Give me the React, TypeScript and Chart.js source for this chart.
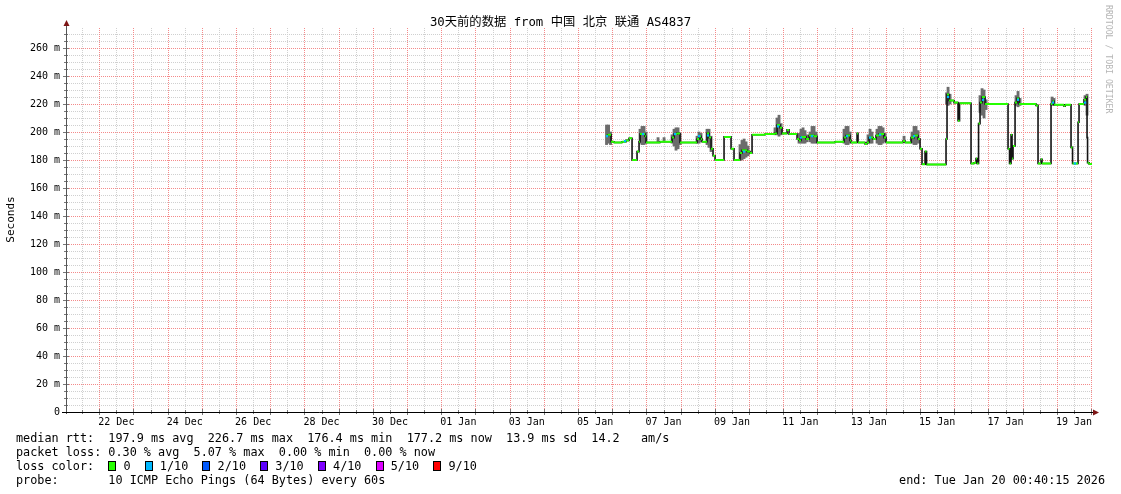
import React, { useEffect, useRef } from 'react';
import { Chart, registerables } from 'chart.js';

Chart.register(...registerables);

// ---- data ----
const TITLE = '30天前的数据 from 中国 北京 联通 AS4837';
// x values: days since 21 Dec 00:00 (window 21 Dec 00:40:15 .. 20 Jan 00:40:15)
const X_MIN = 0.028;
const X_MAX = 30.028;
const Y_MAX = 275;

const xTickLabels = ['22 Dec', '24 Dec', '26 Dec', '28 Dec', '30 Dec', '01 Jan', '03 Jan', '05 Jan', '07 Jan', '09 Jan', '11 Jan', '13 Jan', '15 Jan', '17 Jan', '19 Jan'];
const xLabelDays = [1.5, 3.5, 5.5, 7.5, 9.5, 11.5, 13.5, 15.5, 17.5, 19.5, 21.5, 23.5, 25.5, 27.5, 29.5];
const yLabelValues = [0, 20, 40, 60, 80, 100, 120, 140, 160, 180, 200, 220, 240, 260];
const yTickLabels = ['0', '20 m', '40 m', '60 m', '80 m', '100 m', '120 m', '140 m', '160 m', '180 m', '200 m', '220 m', '240 m', '260 m'];

// median rtt (ms); each value holds until the next time
const medianT = [15.819, 15.877, 15.965, 16.053, 16.287, 16.404, 16.491, 16.579, 16.725, 16.784, 16.813, 16.959, 16.988, 17.398, 17.749, 17.807, 17.895, 17.982, 18.480, 18.538, 18.596, 18.626, 18.772, 18.830, 18.889, 18.947, 19.006, 19.269, 19.474, 19.561, 19.737, 19.795, 19.942, 20.029, 20.088, 20.146, 20.468, 20.760, 20.819, 20.906, 20.965, 21.111, 21.170, 21.404, 21.462, 21.520, 21.667, 21.754, 21.901, 21.988, 22.515, 22.778, 22.836, 22.953, 22.982, 23.158, 23.187, 23.392, 23.450, 23.509, 23.626, 23.713, 23.801, 23.947, 24.006, 24.503, 24.561, 24.737, 24.825, 24.942, 25.000, 25.058, 25.146, 25.190, 25.760, 25.789, 25.848, 25.994, 26.111, 26.155, 26.491, 26.579, 26.637, 26.667, 26.711, 26.754, 26.813, 26.901, 27.573, 27.617, 27.661, 27.690, 27.719, 27.778, 27.836, 27.895, 28.392, 28.450, 28.538, 28.567, 28.830, 28.874, 28.918, 29.211, 29.240, 29.415, 29.459, 29.620, 29.649, 29.795, 29.854, 29.883, 29.898, 29.942, 30.028];
const medianV = [197.5, 198, 193, 192.5, 193, 194, 195.5, 180, 186, 193, 198.5, 197, 192.5, 193, 196, 198.5, 199, 192.5, 195, 197, 195, 193, 199, 196, 188, 183, 180, 196.5, 188, 180, 185, 187, 186, 185, 198, 198, 198.5, 199, 205, 203, 199, 201.5, 198.5, 195, 194, 196.5, 195, 197.5, 197, 192.5, 193, 196, 197.5, 194, 192.5, 199, 192.5, 191.5, 192.5, 196, 195, 197.5, 198.5, 196, 192.5, 193.5, 192.5, 196, 197.5, 195, 188, 177, 186, 176.8, 195, 226.7, 222.5, 221, 208, 220.5, 177.5, 178, 181, 177.5, 206, 221, 225, 220, 188, 177.5, 198, 181, 190, 221, 224, 220, 219, 177.5, 180.5, 177.5, 220, 222, 219.5, 218.5, 219.5, 189, 177.5, 207, 220, 223, 225, 196, 178, 177.2, 177.2];

// smoke (spread of the 10 pings), per column
const smokeT = [15.833, 15.892, 15.950, 16.813, 16.871, 16.930, 16.988, 17.339, 17.515, 17.749, 17.807, 17.865, 17.924, 17.982, 18.480, 18.538, 18.596, 18.772, 18.830, 18.889, 19.737, 19.795, 19.854, 19.912, 19.971, 20.760, 20.819, 20.877, 20.936, 21.462, 21.520, 21.579, 21.637, 21.696, 21.784, 21.842, 21.901, 21.959, 22.778, 22.836, 22.895, 22.953, 23.480, 23.538, 23.596, 23.743, 23.801, 23.860, 23.918, 23.977, 24.532, 24.766, 24.825, 24.883, 24.942, 25.775, 25.819, 25.877, 26.754, 26.813, 26.871, 26.930, 27.807, 27.865, 27.924, 28.860, 28.918, 29.825, 29.883];
const smokeLo = [191, 192, 191, 192, 191, 191, 192, 193, 193, 192, 190, 187, 188, 191, 192, 192, 193, 191, 189, 186, 181, 180, 181, 182, 183, 198, 198, 197, 198, 192, 192, 192, 192, 193, 193, 192, 192, 192, 192, 191, 191, 192, 192, 192, 192, 192, 191, 191, 192, 193, 193, 192, 191, 191, 192, 220, 219, 220, 214, 212, 210, 216, 219, 218, 219, 219, 219, 219, 212];
const smokeHi = [205, 205, 200, 202, 204, 204, 200, 196, 196, 198, 202, 203, 203, 199, 197, 200, 199, 202, 202, 197, 191, 194, 195, 193, 190, 203, 210, 212, 206, 199, 202, 203, 201, 198, 200, 204, 204, 200, 202, 204, 204, 200, 198, 202, 200, 202, 204, 204, 203, 199, 197, 200, 204, 204, 201, 228, 232, 227, 226, 231, 230, 223, 226, 229, 224, 225, 224, 226, 227];

// median samples with 1/10 packet loss
const loss1T = [15.848, 16.374, 16.901, 17.836, 18.538, 18.801, 19.854, 20.848, 21.520, 21.842, 22.865, 23.538, 23.830, 24.825, 25.819, 26.842, 27.865, 28.889, 29.532, 29.825];
const loss1V = [197, 193.5, 198.5, 198.5, 197, 197.5, 186, 204, 196, 197, 197, 196, 198, 197, 225, 223, 223, 221, 177.5, 221];

const FONT = "'DejaVu Sans Mono', 'Noto Sans CJK SC', monospace";
const legendItems = [
  { color: '#26ff00', label: '0' },
  { color: '#00b8ff', label: '1/10' },
  { color: '#0059ff', label: '2/10' },
  { color: '#5e00ff', label: '3/10' },
  { color: '#7e00ff', label: '4/10' },
  { color: '#dd00ff', label: '5/10' },
  { color: '#ff0000', label: '9/10' },
];

const MAJOR = '#f48a8a';
const MINOR = '#d0d0d0';

// dotted rrdtool-style grid, placed through the chart's own scales (pixel dots)
const gridPlugin = {
  id: 'rrdGrid',
  beforeDatasetsDraw(chart: any) {
    const { ctx, chartArea, scales } = chart;
    const left = Math.round(chartArea.left);
    const right = Math.round(chartArea.right);
    const top = Math.round(chartArea.top);
    const bottom = Math.round(chartArea.bottom);
    const xs = scales.x;
    const ys = scales.y;
    ctx.save();
    const drawSet = (major: boolean) => {
      ctx.fillStyle = major ? MAJOR : MINOR;
      xs.ticks.forEach((t: any) => {
        const isMaj = Math.abs(t.value - Math.round(t.value)) < 1e-6;
        if (isMaj !== major) return;
        const px = Math.round(xs.getPixelForValue(t.value));
        for (let y = bottom - 2; y >= top; y -= 2) ctx.fillRect(px, y, 1, 1);
      });
      ys.ticks.forEach((t: any) => {
        if (t.value === 0) return;
        const isMaj = Math.round(t.value) % 20 === 0;
        if (isMaj !== major) return;
        const py = Math.round(ys.getPixelForValue(t.value));
        for (let x = left + 1; x < right; x += 2) ctx.fillRect(x, py, 1, 1);
      });
    };
    drawSet(false);
    drawSet(true);
    ctx.restore();
  },
  afterDraw(chart: any) {
    const { ctx, chartArea, scales } = chart;
    const { left, top, right, bottom } = chartArea;
    const ys = scales.y;
    const xs = scales.x;
    ctx.save();
    ctx.lineWidth = 1;
    // small tick marks
    ctx.strokeStyle = '#777';
    ctx.beginPath();
    ys.ticks.forEach((t: any) => {
      const py = Math.round(ys.getPixelForValue(t.value)) + 0.5;
      const len = Math.round(t.value) % 20 === 0 ? 3 : 2;
      ctx.moveTo(left - len, py);
      ctx.lineTo(left + len, py);
    });
    xs.ticks.forEach((t: any) => {
      const px = Math.round(xs.getPixelForValue(t.value)) + 0.5;
      const len = Math.abs(t.value - Math.round(t.value)) < 1e-6 ? 3 : 2;
      ctx.moveTo(px, bottom - len);
      ctx.lineTo(px, bottom + len);
    });
    ctx.stroke();
    // axes
    ctx.strokeStyle = '#555';
    ctx.beginPath();
    ctx.moveTo(Math.round(left) + 0.5, bottom + 2);
    ctx.lineTo(Math.round(left) + 0.5, top - 2);
    ctx.stroke();
    ctx.strokeStyle = '#000';
    ctx.beginPath();
    ctx.moveTo(left - 4, Math.round(bottom) + 0.5);
    ctx.lineTo(right + 1, Math.round(bottom) + 0.5);
    ctx.stroke();
    // arrows
    ctx.fillStyle = '#7d1515';
    ctx.beginPath();
    ctx.moveTo(left - 2.5, top - 1);
    ctx.lineTo(left + 3.5, top - 1);
    ctx.lineTo(left + 0.5, top - 7);
    ctx.closePath();
    ctx.fill();
    ctx.beginPath();
    ctx.moveTo(right + 1, bottom - 2.5);
    ctx.lineTo(right + 1, bottom + 3.5);
    ctx.lineTo(right + 7, bottom + 0.5);
    ctx.closePath();
    ctx.fill();
    ctx.restore();
  },
};

export default function App() {
  const ref = useRef<HTMLCanvasElement>(null);

  useEffect(() => {
    if (!ref.current) return;
    const medianPts = medianT.map((t, i) => ({ x: t, y: medianV[i] }));
    const greenPts: any[] = [];
    for (let i = 0; i < medianT.length - 1; i++) {
      greenPts.push({ x: medianT[i], y: medianV[i] });
      greenPts.push({ x: medianT[i + 1], y: medianV[i] });
      greenPts.push({ x: medianT[i + 1], y: null });
    }
    const smokePts = smokeT.map((t, i) => ({ x: t, y: [smokeLo[i], smokeHi[i]] }));
    const lossPts = loss1T.map((t, i) => ({ x: t, y: loss1V[i] }));

    const xTicks: number[] = [];
    for (let k = 1; k <= 60; k++) xTicks.push(k / 2);
    const yTicks: number[] = [];
    for (let v = 0; v <= 270; v += 5) yTicks.push(v);

    const chart = new Chart(ref.current, {
      type: 'line',
      data: {
        datasets: [
          { type: 'bar', data: smokePts as any, backgroundColor: '#6c6c6c', borderWidth: 0, barThickness: 2.2, order: 4 } as any,
          { type: 'line', data: medianPts, stepped: 'before', borderColor: '#141414', borderWidth: 1.6, pointRadius: 0, order: 3 } as any,
          { type: 'line', data: greenPts, borderColor: '#26ff00', borderWidth: 2, pointRadius: 0, spanGaps: false, order: 2 } as any,
          { type: 'scatter', data: lossPts, pointStyle: 'rect', pointRadius: 1.6, backgroundColor: '#00b8ff', borderWidth: 0, order: 1 } as any,
        ],
      },
      options: {
        responsive: false,
        animation: false,
        events: [],
        layout: { padding: { left: 0, top: 27, right: 29, bottom: 62 } },
        plugins: { legend: { display: false }, tooltip: { enabled: false } },
        scales: {
          x: {
            type: 'linear',
            min: X_MIN,
            max: X_MAX,
            offset: false,
            afterBuildTicks: (s: any) => { s.ticks = xTicks.map((v) => ({ value: v })); },
            afterFit: (s: any) => { s.height = 20; },
            ticks: {
              autoSkip: false,
              maxRotation: 0,
              padding: 2,
              color: '#000',
              font: { family: FONT, size: 10 },
              callback: (v: any) => {
                const k = xLabelDays.indexOf(Number(v));
                return k >= 0 ? xTickLabels[k] : '';
              },
            },
            grid: { display: false, drawTicks: true, tickLength: 2, offset: false },
            border: { display: false },
          },
          y: {
            type: 'linear',
            min: 0,
            max: Y_MAX,
            afterBuildTicks: (s: any) => { s.ticks = yTicks.map((v) => ({ value: v })); },
            afterFit: (s: any) => { s.width = 66; },
            ticks: {
              autoSkip: false,
              padding: 3,
              color: '#000',
              font: { family: FONT, size: 10 },
              callback: (v: any) => {
                const k = yLabelValues.indexOf(Number(v));
                return k >= 0 ? yTickLabels[k] : '';
              },
            },
            title: { display: true, text: 'Seconds', color: '#000', font: { family: FONT, size: 11 }, padding: { top: 5, bottom: 0 } },
            grid: { display: false, drawTicks: true, tickLength: 3 },
            border: { display: false },
          },
        },
      } as any,
      plugins: [gridPlugin],
    });
    return () => chart.destroy();
  }, []);

  const textStyle: React.CSSProperties = {
    position: 'absolute',
    left: 16,
    fontFamily: FONT,
    fontSize: 11.8,
    lineHeight: '14px',
    whiteSpace: 'pre',
    color: '#000',
  };

  return (
    <div style={{ position: 'fixed', left: 0, top: 0, width: 1121, height: 494, background: '#fff', overflow: 'hidden' }}>
      <canvas ref={ref} width={1121} height={494} style={{ position: 'absolute', left: 0, top: 0, width: 1121, height: 494 }} />
      <div style={{ position: 'absolute', left: 0, top: 14, width: 1121, textAlign: 'center', fontFamily: FONT, fontSize: 12.3, lineHeight: '16px', color: '#000', whiteSpace: 'pre' }}>{TITLE}</div>
      <div style={{ position: 'absolute', left: 1104, top: 5, writingMode: 'vertical-rl', fontFamily: FONT, fontSize: 8.2, color: '#b5b5b5', whiteSpace: 'pre', lineHeight: '10px' }}>RRDTOOL / TOBI OETIKER</div>
      <div style={{ ...textStyle, top: 431 }}>{'median rtt:  197.9 ms avg  226.7 ms max  176.4 ms min  177.2 ms now  13.9 ms sd  14.2   am/s'}</div>
      <div style={{ ...textStyle, top: 445 }}>{'packet loss: 0.30 % avg  5.07 % max  0.00 % min  0.00 % now'}</div>
      <div style={{ ...textStyle, top: 459 }}>
        {'loss color:  '}
        {legendItems.map((it) => (
          <span key={it.label}>
            <span style={{ display: 'inline-block', width: 6, height: 8, background: it.color, border: '1px solid #000', verticalAlign: '-1px' }} />
            {' ' + it.label + '  '}
          </span>
        ))}
      </div>
      <div style={{ ...textStyle, top: 473 }}>{'probe:       10 ICMP Echo Pings (64 Bytes) every 60s'}</div>
      <div style={{ ...textStyle, left: 'auto', right: 16, top: 473 }}>{'end: Tue Jan 20 00:40:15 2026'}</div>
    </div>
  );
}
